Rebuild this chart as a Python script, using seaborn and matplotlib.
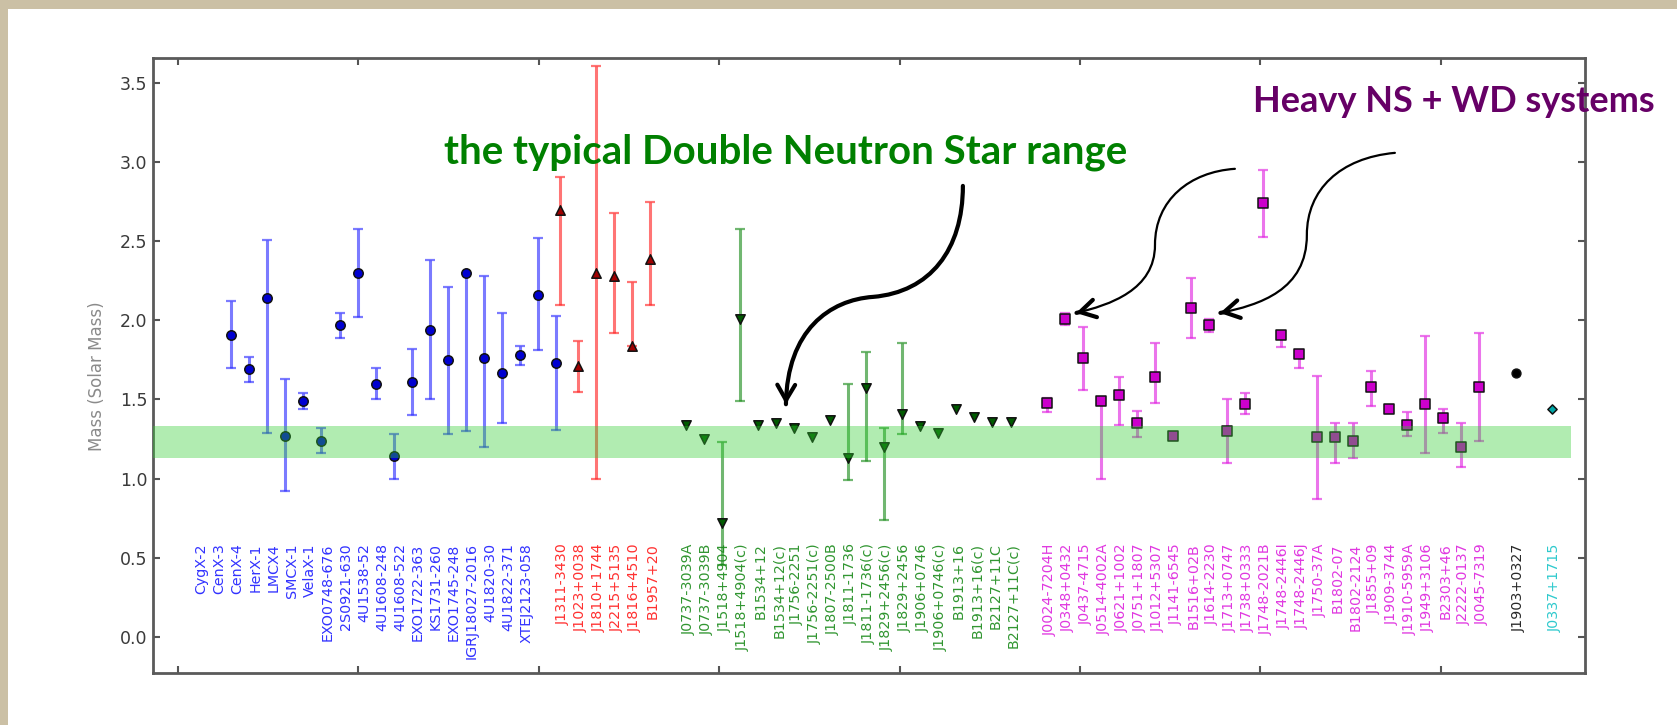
import numpy as np
import pandas as pd
import matplotlib
matplotlib.use("Agg")
import matplotlib.pyplot as plt
import seaborn as sns
from matplotlib.path import Path
from matplotlib.patches import FancyArrowPatch, Rectangle

# ---- X-ray / optical binaries -------------------------------------------
xray_names = ["CygX-2", "CenX-3", "CenX-4", "HerX-1", "LMCX4", "SMCX-1", "VelaX-1",
              "EXO0748-676", "2S0921-630", "4U1538-52", "4U1608-248", "4U1608-522",
              "EXO1722-363", "KS1731-260", "EXO1745-248", "IGRJ18027-2016",
              "4U1820-30", "4U1822-371", "XTEJ2123-058"]
xray_mass = [1.91, 1.69, 2.14, 1.27, 1.49, 1.24, 1.97, 2.30, 1.60, 1.14, 1.61, 1.94,
             1.75, 2.30, 1.76, 1.67, 1.78, 2.16, 1.73]
xray_err_hi = [0.21, 0.08, 0.37, 0.36, 0.05, 0.08, 0.08, 0.28, 0.10, 0.14, 0.21, 0.44,
               0.46, 0.00, 0.52, 0.38, 0.06, 0.36, 0.30]
xray_err_lo = [0.21, 0.08, 0.85, 0.35, 0.05, 0.08, 0.08, 0.28, 0.10, 0.14, 0.21, 0.44,
               0.47, 1.00, 0.56, 0.32, 0.06, 0.35, 0.42]

# ---- black-widow / redback systems ---------------------------------------
bw_names = ["J1311-3430", "J1023+0038", "J1810+1744", "J2215+5135", "J1816+4510", "B1957+20"]
bw_mass = [2.70, 1.71, 2.30, 2.28, 1.84, 2.39]
bw_err_hi = [0.21, 0.16, 1.31, 0.40, 0.40, 0.36]
bw_err_lo = [0.60, 0.16, 1.30, 0.36, 0.00, 0.29]

# ---- double neutron stars ------------------------------------------------
dns_names = ["J0737-3039A", "J0737-3039B", "J1518+4904", "J1518+4904(c)", "B1534+12",
             "B1534+12(c)", "J1756-2251", "J1756-2251(c)", "J1807-2500B", "J1811-1736",
             "J1811-1736(c)", "J1829+2456(c)", "J1829+2456", "J1906+0746",
             "J1906+0746(c)", "B1913+16", "B1913+16(c)", "B2127+11C", "B2127+11C(c)"]
dns_mass = [1.34, 1.25, 0.72, 2.01, 1.34, 1.35, 1.32, 1.26, 1.37, 1.13, 1.57, 1.20,
            1.41, 1.33, 1.29, 1.44, 1.39, 1.36, 1.36]
dns_err_hi = [0, 0, 0.51, 0.57, 0, 0, 0, 0, 0, 0.47, 0.23, 0.12, 0.45, 0, 0, 0, 0, 0, 0]
dns_err_lo = [0, 0, 0.27, 0.52, 0, 0, 0, 0, 0, 0.14, 0.46, 0.46, 0.13, 0, 0, 0, 0, 0, 0]

# ---- NS + white dwarf binaries -------------------------------------------
wd_names = ["J0024-7204H", "J0348+0432", "J0437-4715", "J0514-4002A", "J0621+1002",
            "J0751+1807", "J1012+5307", "J1141-6545", "B1516+02B", "J1614-2230",
            "J1713+0747", "J1738+0333", "J1748-2021B", "J1748-2446I", "J1748-2446J",
            "J1750-37A", "B1802-07", "B1802-2124", "J1855+09", "J1909-3744",
            "J1910-5959A", "J1949+3106", "B2303+46", "J2222-0137", "J0045-7319"]
wd_mass = [1.48, 2.01, 1.76, 1.49, 1.53, 1.35, 1.64, 1.27, 2.08, 1.97, 1.30, 1.47,
           2.74, 1.91, 1.79, 1.26, 1.26, 1.24, 1.58, 1.44, 1.34, 1.47, 1.38, 1.20, 1.58]
wd_err_hi = [0.03, 0.04, 0.20, 0.00, 0.11, 0.08, 0.22, 0.00, 0.19, 0.04, 0.20, 0.07,
             0.21, 0.02, 0.02, 0.39, 0.09, 0.11, 0.10, 0.00, 0.08, 0.43, 0.06, 0.15, 0.34]
wd_err_lo = [0.06, 0.04, 0.20, 0.49, 0.19, 0.09, 0.16, 0.00, 0.19, 0.04, 0.20, 0.06,
             0.21, 0.08, 0.09, 0.39, 0.16, 0.11, 0.12, 0.00, 0.07, 0.31, 0.09, 0.13, 0.34]

# ---- single systems ------------------------------------------------------
triple_names = ["J1903+0327"]
triple_mass = [1.67]
hier_names = ["J0337+1715"]
hier_mass = [1.44]

# Double neutron star band
dns_band = (1.13, 1.33)

# group: (names, mass, err_lo, err_hi, first slot, marker offset, marker, face, bar colour, label colour, size)
groups = [
    (xray_names, xray_mass, xray_err_lo, xray_err_hi, 1, 1.95, "o", "#0000d0", "#2a2aff", "#1c1cff", 46),
    (bw_names, bw_mass, bw_err_lo, bw_err_hi, 21, 0.15, "^", "#a00000", "#ff2020", "#ff1a1a", 46),
    (dns_names, dns_mass, dns_err_lo, dns_err_hi, 28, 0.15, "v", "#005a00", "#1a8c1a", "#1a8a1a", 46),
    (wd_names, wd_mass, wd_err_lo, wd_err_hi, 48, 0.15, "s", "#cc00cc", "#e020e0", "#dd22dd", 46),
    (triple_names, triple_mass, [0], [0], 74, 0.15, "o", "#000000", "#000000", "#111111", 40),
    (hier_names, hier_mass, [0], [0], 76, 0.15, "D", "#00a8a8", "#00a8a8", "#18c4c8", 22),
]

sns.set_theme(style="white")
plt.rcParams["font.family"] = ["DejaVu Sans"]

W, H = 1677, 725
fig = plt.figure(figsize=(W / 100, H / 100), dpi=100)
fig.patch.set_facecolor("#cbc0a5")
fig.patches.append(Rectangle((8 / W, 0), 1, 1 - 9 / H, transform=fig.transFigure,
                             facecolor="white", edgecolor="none", zorder=-1))

ax = fig.add_axes([153 / W, 52 / H, 1432 / W, 615 / H])
ax.set_facecolor("white")

label_y = 0.59
for names, mass, elo, ehi, start, off, mk, face, barc, labc, size in groups:
    slots = np.arange(start, start + len(names))
    df = pd.DataFrame({"x": slots + off, "mass": mass, "lo": elo, "hi": ehi})
    bars = df[(df["lo"] > 0) | (df["hi"] > 0)]
    if len(bars):
        ax.errorbar(bars["x"], bars["mass"], yerr=[bars["lo"], bars["hi"]], fmt="none",
                    ecolor=barc, elinewidth=2.2, capsize=3.8, capthick=1.6,
                    alpha=0.62, zorder=2)
    sns.scatterplot(data=df, x="x", y="mass", marker=mk, color=face, s=size,
                    edgecolor="#111111", linewidth=1.1, ax=ax, zorder=3, legend=False)
    for sx, name in zip(slots + 0.3, names):
        ax.text(sx, label_y, name, rotation=90, ha="center", va="top",
                fontsize=10.3, color=labc, alpha=0.9, zorder=3)

ax.axhspan(dns_band[0], dns_band[1], xmin=0, xmax=0.99, color="limegreen",
           alpha=0.38, lw=0, zorder=4)

ax.set_xlim(-1.39, 78.0)
ax.set_ylim(-0.23, 3.66)
ax.set_xticks(np.arange(0, 71, 10))
ax.set_xticklabels([])
ax.set_yticks(np.arange(0, 3.51, 0.5))
ax.set_yticklabels([f"{v:.1f}" for v in np.arange(0, 3.51, 0.5)])
ax.tick_params(direction="in", length=5, width=1.5, color="#555555",
               top=True, right=True, bottom=True, left=True,
               labelsize=12.5, labelcolor="#3a3a3a", pad=4)
ax.set_xlabel("")
ax.set_ylabel("Mass (Solar Mass)", fontsize=12, color="#8a8a8a")
ax.yaxis.set_label_coords(-0.033, 0.483)
for sp in ax.spines.values():
    sp.set_color("#5a5a5a")
    sp.set_linewidth(2)


def bezier(pts):
    codes = [Path.MOVETO] + [Path.CURVE4] * (len(pts) - 1)
    return Path(pts, codes)


def head(tip, prev, lw):
    d = np.array(tip) - np.array(prev)
    d = d / np.hypot(*d)
    a = FancyArrowPatch(posA=tuple(np.array(tip) - 0.03 * d), posB=tip,
                        arrowstyle="->,head_length=0.55,head_width=0.32",
                        mutation_scale=20, lw=lw, color="black",
                        shrinkA=0, shrinkB=0, clip_on=False, zorder=6,
                        capstyle="round", joinstyle="round")
    ax.add_patch(a)


# arrow to the double neutron star cluster
p1 = [(43.51, 2.851), (43.51, 2.446), (41.69, 2.180), (38.53, 2.149),
      (36.14, 2.130), (33.76, 1.940), (33.70, 1.47)]
ax.add_patch(FancyArrowPatch(path=bezier(p1), arrowstyle="-", lw=3.0, color="black",
                             clip_on=False, zorder=6, capstyle="round"))
head(p1[-1], p1[-2], 3.0)

# arrows to the two heaviest NS + WD systems
p2 = [(58.59, 2.959), (56.10, 2.940), (54.16, 2.763), (54.16, 2.478),
      (54.16, 2.193), (51.66, 2.098), (49.78, 2.047)]
ax.add_patch(FancyArrowPatch(path=bezier(p2), arrowstyle="-", lw=1.6, color="black",
                             clip_on=False, zorder=6))
head(p2[-1], p2[-2], 3.0)

p3 = [(67.46, 3.060), (64.41, 3.028), (62.58, 2.826), (62.58, 2.541),
      (62.58, 2.193), (59.98, 2.098), (57.76, 2.047)]
ax.add_patch(FancyArrowPatch(path=bezier(p3), arrowstyle="-", lw=1.6, color="black",
                             clip_on=False, zorder=6))
head(p3[-1], p3[-2], 3.0)

fig.text(786 / W, 1 - 152 / H, "the typical Double Neutron Star range",
         ha="center", va="center", fontsize=29, fontweight="bold",
         family=["Lato", "DejaVu Sans"], color="#008000")
fig.text(1454 / W, 1 - 102 / H, "Heavy NS + WD systems",
         ha="center", va="center", fontsize=26, fontweight="bold",
         family=["Lato", "DejaVu Sans"], color="#660066")

fig.savefig("out.png", dpi=100, facecolor=fig.get_facecolor())
